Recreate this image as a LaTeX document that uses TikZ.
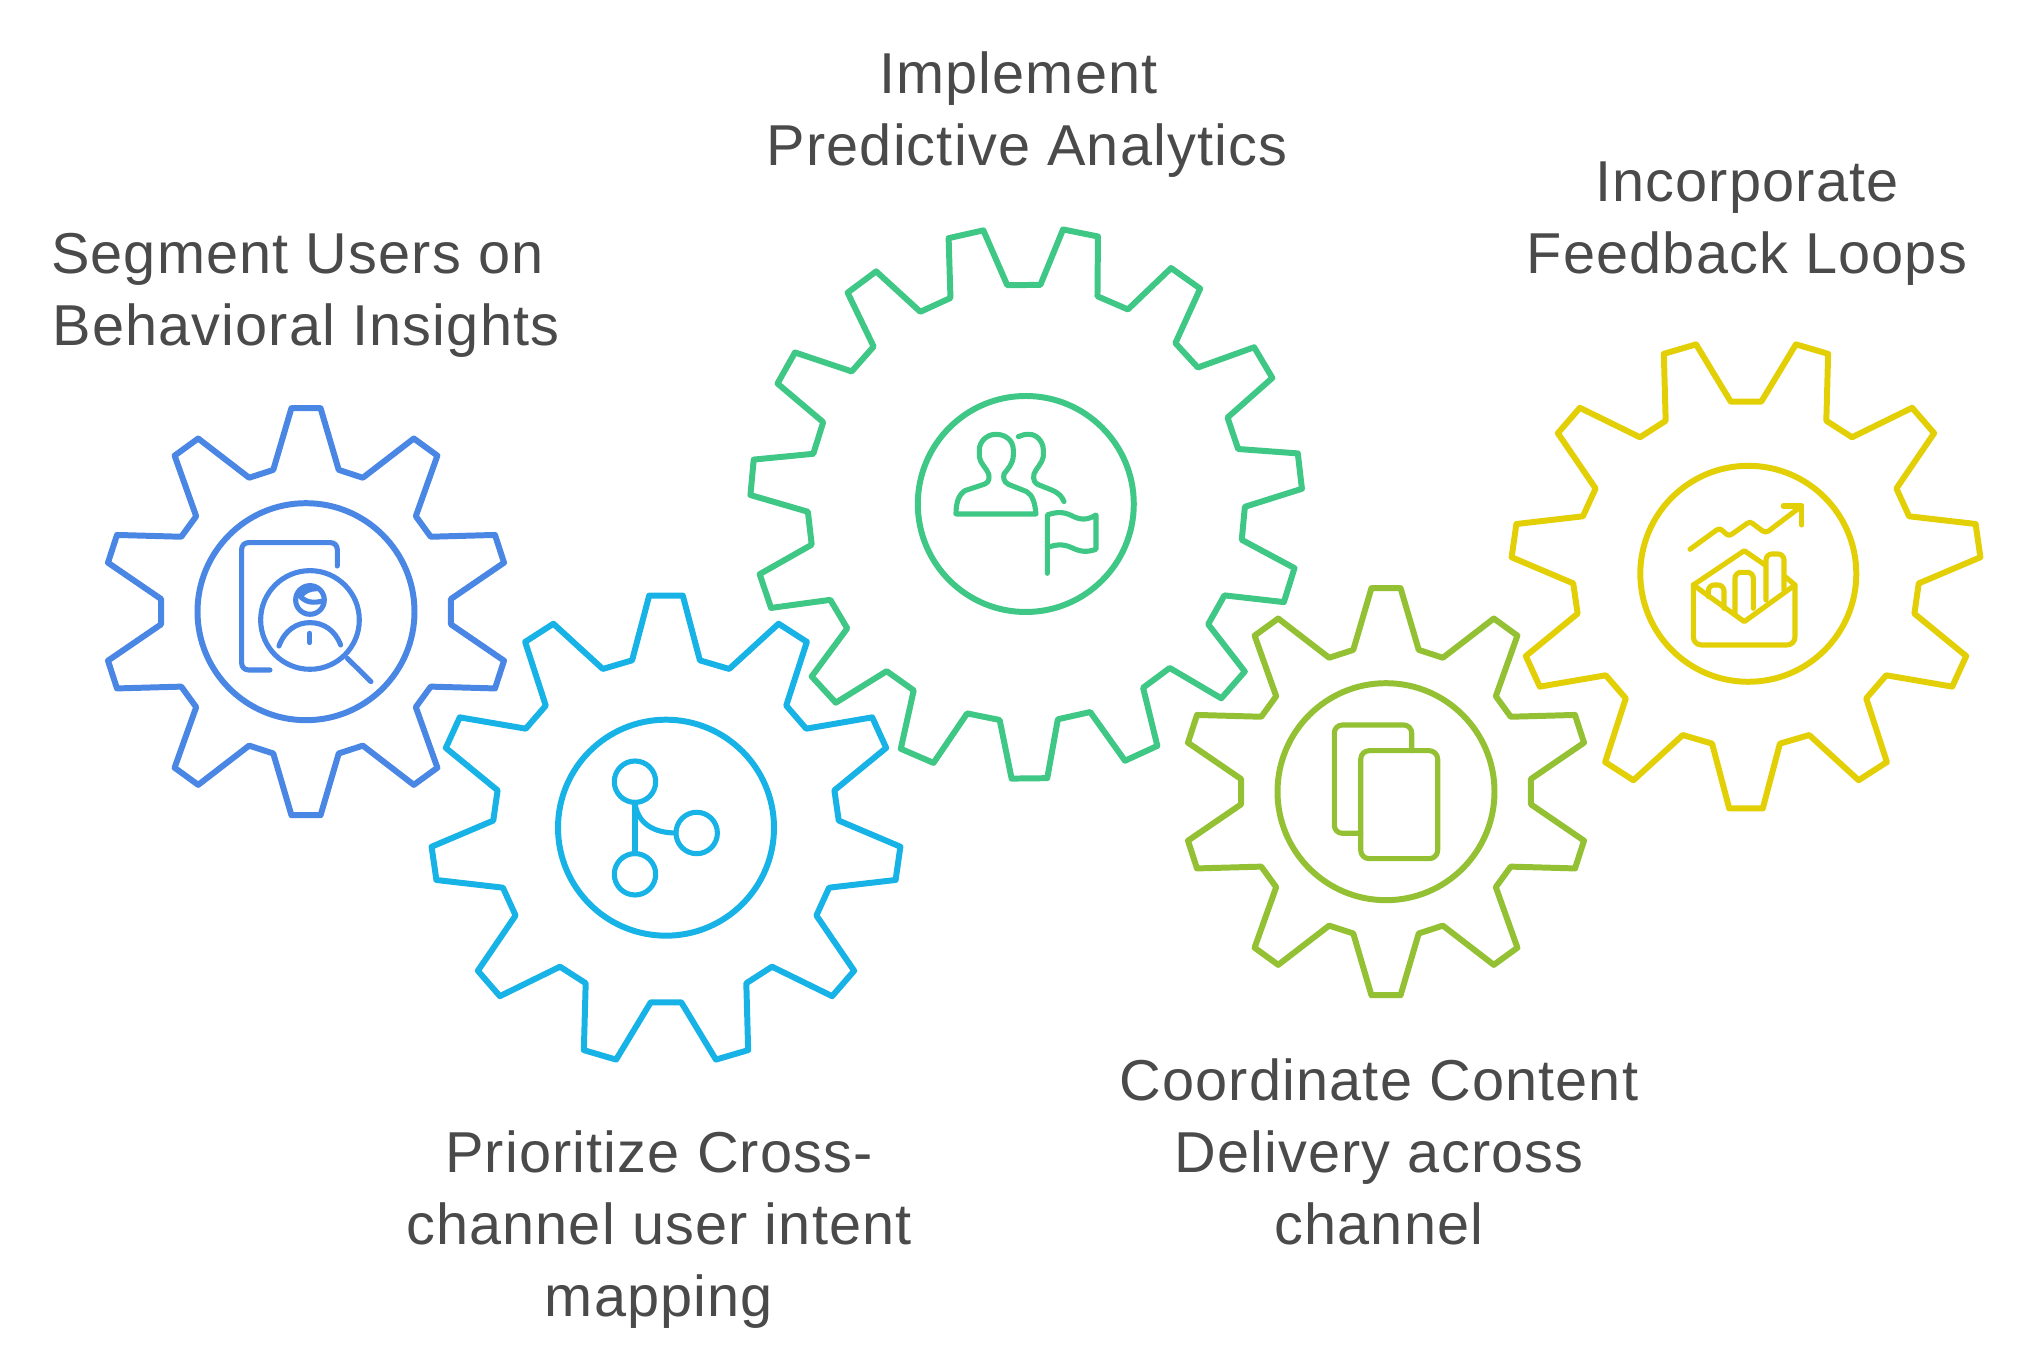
\documentclass[tikz,border=0pt]{standalone}
\usepackage{fontspec}
\setmainfont[LetterSpace=2]{Liberation Sans}
\definecolor{gearblue}{HTML}{4A86E4}
\definecolor{gearcyan}{HTML}{17B2E6}
\definecolor{geargreen}{HTML}{3FC785}
\definecolor{gearlime}{HTML}{94C133}
\definecolor{gearyellow}{HTML}{E3CF05}
\definecolor{labelgrey}{HTML}{4A4A4A}
\tikzset{
  gearline/.style={line width=1.7pt, line join=round},
  iconline/.style={line width=1.45pt, line join=round, line cap=round},
  gearlabel/.style={inner sep=0pt, align=center, text=labelgrey, font=\fontsize{16.4pt}{20.5pt}\selectfont}
}
\begin{document}
\begin{tikzpicture}[x=0.01cm, y=0.01cm]
        \useasboundingbox (0,0) rectangle (2020,-1368);
        % blue gear
        \begin{scope}[shift={(306,-611.7)}, gearblue]
        \draw [gearline] (94.1:204) \foreach \a in {90,54,...,-234} { -- (\a+4.1:204) -- (\a-4.1:204) -- (\a-13:145.5) -- (\a-23:145.5) } -- cycle;
        \draw [gearline] (0,0) circle (108.5);
        \end{scope}
        \begin{scope}[shift={(90,-400)}, scale=0.3333, gearblue, iconline]
        \draw [rounded corners=0.67mm] (742,-498) -- (742,-428) -- (455,-428) -- (455,-810) -- (540,-810);
        \draw (660,-660) circle (148);
        \draw (660,-600) circle (43);
        \draw (632,-590) .. controls (648,-608) and (672,-610) .. (698,-603);
        \draw (632,-590) .. controls (640,-574) and (660,-566) .. (682,-566);
        \draw (567,-738) .. controls (585,-690) and (620,-668) .. (660,-668) .. controls (700,-668) and (735,-690) .. (752,-735);
        \draw (659,-700) -- (659,-728);
        \draw (772,-775) -- (843,-845);
        \end{scope}
        % cyan gear
        \begin{scope}[shift={(666,-830)}, gearcyan]
        \draw [gearline] (94.1:235) \foreach \i in {0,...,10} { -- (90-\i*32.727+4.1:235) -- (90-\i*32.727-4.1:235) -- (90-\i*32.727-11.3:173) -- (90-\i*32.727-21.43:173) } -- cycle;
        \draw [gearline] (0,2.3) circle (108);
        \end{scope}
        \begin{scope}[gearcyan, iconline]
        \draw (635,-781.7) circle (20.7);
        \draw (635,-874.3) circle (20.7);
        \draw (696.7,-833) circle (20.7);
        \draw (635,-802.4) -- (635,-853.6);
        \draw (635,-802.4) .. controls (637,-822) and (652,-833) .. (676,-833);
        \end{scope}
        % green gear
        \begin{scope}[shift={(1026.3,-503)}, geargreen]
        \draw [gearline] (-85.65:276) \foreach \i in {0,...,14} { -- (-89.35-\i*24+3.7:276) -- (-89.35-\i*24-3.7:276) -- (-89.35-\i*24-7.65:218.6) -- (-89.35-\i*24-16.35:218.6) } -- cycle;
        \draw [gearline] (-0.5,-1) circle (108);
        \end{scope}
        \begin{scope}[shift={(880,-400)}, scale=0.3333, geargreen, iconline]
        \draw (228,-342) -- (468,-342) .. controls (465,-310) and (458,-285) .. (440,-275) -- (385,-253) .. controls (370,-245) and (370,-232) .. (372,-222) .. controls (385,-205) and (400,-190) .. (400,-165) -- (400,-150) .. controls (400,-120) and (375,-103) .. (348,-103) .. controls (320,-103) and (298,-125) .. (298,-150) -- (298,-170) .. controls (300,-190) and (320,-205) .. (326,-222) .. controls (328,-235) and (328,-245) .. (315,-252) -- (255,-272) .. controls (235,-285) and (228,-310) .. cycle;
        \draw (415,-110) .. controls (425,-105) and (435,-103) .. (448,-103) .. controls (470,-103) and (490,-125) .. (490,-150) -- (490,-170) .. controls (487,-190) and (468,-205) .. (462,-222) .. controls (458,-240) and (465,-250) .. (475,-254) -- (515,-270) .. controls (538,-280) and (546,-290) .. (552,-305);
        \draw (502,-520) -- (502,-345) .. controls (530,-335) and (550,-335) .. (575,-347) .. controls (600,-360) and (620,-362) .. (648,-345) -- (648,-448) .. controls (620,-458) and (600,-455) .. (575,-443) .. controls (550,-432) and (530,-432) .. (502,-443);
        \end{scope}
        % lime gear
        \begin{scope}[shift={(1386,-791.7)}, gearlime]
        \draw [gearline] (94.1:204) \foreach \a in {90,54,...,-234} { -- (\a+4.1:204) -- (\a-4.1:204) -- (\a-13:145.5) -- (\a-23:145.5) } -- cycle;
        \draw [gearline] (0,0) circle (108.5);
        \end{scope}
        \begin{scope}[gearlime, iconline]
        \draw [rounded corners=0.8mm] (1411.7,-750.7) -- (1411.7,-725) -- (1334.3,-725) -- (1334.3,-833.3) -- (1360.7,-833.3);
        \draw [rounded corners=0.85mm] (1360.7,-750.7) rectangle (1437.7,-858.7);
        \end{scope}
        % yellow gear
        \begin{scope}[shift={(1746,-574)}, gearyellow]
        \draw [gearline] (-85.9:235) \foreach \i in {0,...,10} { -- (-90-\i*32.727+4.1:235) -- (-90-\i*32.727-4.1:235) -- (-90-\i*32.727-11.3:173) -- (-90-\i*32.727-21.43:173) } -- cycle;
        \draw [gearline] (2.3,0.2) circle (108);
        \end{scope}
        \begin{scope}[shift={(1660,-480)}, scale=0.3333, gearyellow, iconline]
        \draw (90,-208) -- (170,-150) .. controls (176,-146) and (180,-146) .. (185,-150) -- (200,-163) .. controls (205,-167) and (210,-167) .. (215,-163) -- (262,-130) .. controls (267,-126) and (272,-126) .. (277,-130) -- (308,-153) .. controls (314,-157) and (320,-157) .. (326,-153) -- (425,-78);
        \draw (370,-78) -- (425,-78) -- (425,-135);
        \draw [rounded corners=0.8mm] (100,-315) -- (100,-495) -- (405,-495) -- (405,-315);
        \draw (100,-315) -- (253,-425) -- (405,-315) -- (378,-292);
        \draw (100,-315) -- (253,-212) -- (315,-255);
        \draw [rounded corners=0.6mm] (145,-350) -- (145,-315) -- (192,-315) -- (192,-385);
        \draw [rounded corners=0.6mm] (225,-400) -- (225,-277) -- (280,-277) -- (280,-385);
        \draw [rounded corners=0.6mm] (318,-360) -- (318,-222) -- (372,-222) -- (372,-330);
        \end{scope}
        % labels
        \node [gearlabel] (segment) at (306,-295) {Segment Users on~\mbox{}\\Behavioral Insights};
        \node [gearlabel] (prioritize) at (659,-1230) {Prioritize Cross-\\channel user intent\\mapping};
        \node [gearlabel] (implement) at (1027,-115) {Implement~\mbox{}\\Predictive Analytics};
        \node [gearlabel] (coordinate) at (1379,-1152) {Coordinate Content\\Delivery across\\channel};
        \node [gearlabel] (incorporate) at (1747,-224) {Incorporate\\Feedback Loops};
\end{tikzpicture}
\end{document}
